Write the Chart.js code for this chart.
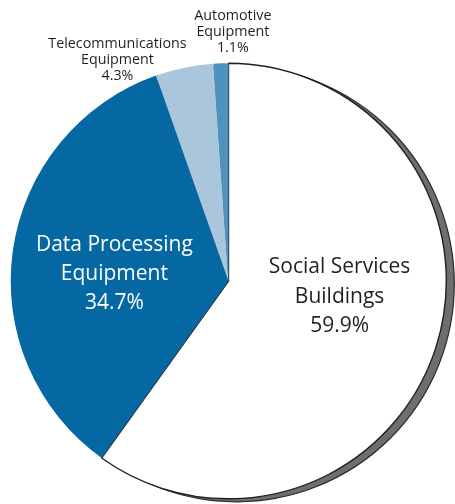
<!DOCTYPE html>
<html>
<head>
<meta charset="utf-8">
<script src="https://cdn.jsdelivr.net/npm/chart.js@4"></script>
<style>
    html, body { margin: 0; padding: 0; background: #ffffff; }
    #wrap { width: 455px; height: 504px; }
</style>
</head>
<body>
<div id="wrap"><canvas id="pieChart" width="455" height="504"></canvas></div>
<script>
// Share of total by category (percent)
const categories = [
    ['Social Services', 'Buildings'],
    ['Data Processing', 'Equipment'],
    ['Telecommunications', 'Equipment'],
    ['Automotive', 'Equipment']
];
const shares = [59.9, 34.7, 4.3, 1.1];

const sliceColors = ['#ffffff', '#0568a3', '#a9c6dd', '#4d93c0'];

// Label placement relative to pie centre, in units of radius
const labelLayout = [
    { dx: 0.51, dy: 0.073, size: 21, color: '#231f20', lineGap: 1.4 },
    { dx: -0.524, dy: -0.032, size: 21, color: '#ffffff', lineGap: 1.4 },
    { dx: -0.51, dy: -1.016, size: 14.3, color: '#231f20', lineGap: 1.1 },
    { dx: 0.02, dy: -1.144, size: 14.3, color: '#231f20', lineGap: 1.1 }
];

// Grey drop shadow behind the pie
const shadowPlugin = {
    id: 'pieShadow',
    beforeDatasetsDraw(chart) {
        const arc = chart.getDatasetMeta(0).data[0];
        if (!arc) return;
        const ctx = chart.ctx;
        ctx.save();
        ctx.beginPath();
        ctx.arc(arc.x + 8, arc.y + 3, arc.outerRadius, 0, Math.PI * 2);
        ctx.fillStyle = '#6d6e71';
        ctx.fill();
        ctx.lineWidth = 1.2;
        ctx.strokeStyle = '#2b2b2b';
        ctx.stroke();
        ctx.restore();
    }
};

// Category names and percentages
const labelPlugin = {
    id: 'sliceLabels',
    afterDatasetsDraw(chart) {
        const meta = chart.getDatasetMeta(0);
        const ctx = chart.ctx;
        const cx = meta.data[0].x;
        const cy = meta.data[0].y;
        const r = meta.data[0].outerRadius;
        ctx.save();
        ctx.textAlign = 'center';
        ctx.textBaseline = 'middle';
        categories.forEach((lines, i) => {
            const l = labelLayout[i];
            const text = lines.concat([shares[i].toFixed(1) + '%']);
            const x = cx + l.dx * r;
            const y = cy + l.dy * r;
            const step = l.size * l.lineGap;
            ctx.font = l.size + 'px "Open Sans", sans-serif';
            ctx.fillStyle = l.color;
            text.forEach((t, j) => {
                ctx.fillText(t, x, y + (j - (text.length - 1) / 2) * step);
            });
        });
        ctx.restore();
    }
};

const pieChart = new Chart(document.getElementById('pieChart'), {
    type: 'pie',
    data: {
        labels: categories.map(c => c.join(' ')),
        datasets: [{
            data: shares,
            backgroundColor: sliceColors,
            borderColor: ['#231f20', 'rgba(0,0,0,0)', 'rgba(0,0,0,0)', 'rgba(0,0,0,0)'],
            borderWidth: [1.4, 0, 0, 0]
        }]
    },
    options: {
        responsive: false,
        animation: false,
        layout: {
            padding: { left: 10, right: 8, top: 62, bottom: 4 }
        },
        plugins: {
            legend: { display: false },
            tooltip: { enabled: false }
        }
    },
    plugins: [shadowPlugin, labelPlugin]
});
</script>
</body>
</html>
